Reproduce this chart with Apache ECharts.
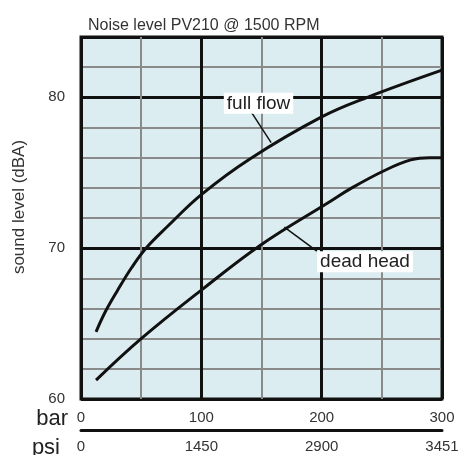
<!DOCTYPE html>
<html>
<head>
<meta charset="utf-8">
<script src="https://cdn.jsdelivr.net/npm/echarts@6/dist/echarts.min.js"></script>
<style>
  html, body { margin: 0; padding: 0; background: #fff; }
  #chart { width: 458px; height: 455px; }
</style>
</head>
<body>
<div id="chart"></div>
<script>
  // values
  const titleText = 'Noise level PV210 @ 1500 RPM';
  const barTicks = [0, 100, 200, 300];
  const psiTicks = ['0', '1450', '2900', '3451'];
  const dbaTicks = [60, 70, 80];

  const fullFlowBar = [12.5, 20, 30, 42, 54, 72, 100, 140, 200, 238, 300];
  const fullFlowDba = [64.45, 65.75, 67.15, 68.7, 70.0, 71.45, 73.55, 75.9, 78.7, 80.0, 81.8];

  const deadHeadBar = [12.5, 50, 100, 150, 207, 223, 251, 274, 290, 300];
  const deadHeadDba = [61.25, 64.0, 67.22, 70.25, 73.1, 73.9, 75.1, 75.85, 76.0, 76.0];

  // callout text and leader lines, in data units
  const fullFlowCallout = { text: 'full flow', at: [147.5, 79.6], from: [141.7, 79.0], to: [158, 77.0] };
  const deadHeadCallout = { text: 'dead head', at: [236, 69.1], from: [196, 69.8], to: [169, 71.4] };

  const zip = (xs, ys) => xs.map((x, i) => [x, ys[i]]);
  const font = 'Liberation Sans, Arial, sans-serif';

  function calloutParts(c) {
    return {
      markLine: {
        silent: true,
        symbol: 'none',
        lineStyle: { color: '#111', width: 1.5, type: 'solid' },
        label: { show: false },
        data: [[{ coord: c.from }, { coord: c.to }]]
      },
      markPoint: {
        silent: true,
        symbolSize: 0,
        data: [{ coord: c.at }],
        label: {
          show: true,
          formatter: c.text,
          position: 'inside',
          color: '#222',
          fontSize: 19,
          fontFamily: font,
          backgroundColor: '#fff',
          padding: [1, 3]
        }
      }
    };
  }

  const chart = echarts.init(document.getElementById('chart'), null, { renderer: 'canvas' });

  const option = {
    animation: false,
    title: {
      text: titleText,
      left: 83,
      top: 13,
      textStyle: { fontSize: 16, fontWeight: 'normal', color: '#333', fontFamily: font }
    },
    grid: {
      left: 81, right: 16, top: 37, bottom: 56,
      outerBoundsMode: 'none',
      show: true,
      backgroundColor: '#dcedf1',
      borderColor: '#111',
      borderWidth: 3
    },
    xAxis: [
      {
        type: 'value', min: 0, max: 300, interval: 50,
        name: 'bar', nameLocation: 'start', nameGap: 13, nameMoveOverlap: false,
        nameTextStyle: { fontSize: 22, color: '#222', fontFamily: font, verticalAlign: 'top', padding: [9, 0, 0, 0] },
        axisLine: { show: false }, axisTick: { show: false },
        axisLabel: {
          margin: 11, fontSize: 15, color: '#333', fontFamily: font,
          formatter: (v) => (barTicks.includes(v) ? String(v) : '')
        },
        splitLine: { show: true, lineStyle: { color: '#8a8a8a', width: 2 } }
      },
      {
        type: 'value', min: 0, max: 300, interval: 100, position: 'bottom',
        axisLine: { show: false }, axisTick: { show: false }, axisLabel: { show: false },
        splitLine: { show: true, lineStyle: { color: '#111', width: 3 } }
      },
      {
        type: 'value', min: 0, max: 300, interval: 100, position: 'bottom', offset: 31,
        name: 'psi', nameLocation: 'start', nameGap: 21, nameMoveOverlap: false,
        nameTextStyle: { fontSize: 22, color: '#222', fontFamily: font, verticalAlign: 'top', padding: [7, 0, 0, 0] },
        axisLine: { show: true, lineStyle: { color: '#111', width: 3 } },
        axisTick: { show: false },
        axisLabel: {
          margin: 9, fontSize: 15, color: '#333', fontFamily: font,
          formatter: (v) => psiTicks[barTicks.indexOf(v)] || ''
        },
        splitLine: { show: false }
      }
    ],
    yAxis: [
      {
        type: 'value', min: 60, max: 84, interval: 2,
        name: 'sound level (dBA)', nameLocation: 'middle', nameGap: 53,
        nameTextStyle: { fontSize: 17, color: '#333', fontFamily: font, padding: [0, 0, 0, 22] },
        axisLine: { show: false }, axisTick: { show: false },
        axisLabel: {
          margin: 16, fontSize: 15, color: '#333', fontFamily: font,
          formatter: (v) => (dbaTicks.includes(v) ? String(v) : '')
        },
        splitLine: { show: true, lineStyle: { color: '#8a8a8a', width: 2 } }
      },
      {
        type: 'value', min: 60, max: 84, interval: 10, position: 'left',
        axisLine: { show: false }, axisTick: { show: false }, axisLabel: { show: false },
        splitLine: { show: true, lineStyle: { color: '#111', width: 3 } }
      }
    ],
    series: [
      Object.assign({
        name: 'full flow', type: 'line', smooth: 0.4, symbol: 'none',
        data: zip(fullFlowBar, fullFlowDba),
        lineStyle: { color: '#111', width: 3 }, z: 5
      }, calloutParts(fullFlowCallout)),
      Object.assign({
        name: 'dead head', type: 'line', smooth: 0.4, symbol: 'none',
        data: zip(deadHeadBar, deadHeadDba),
        lineStyle: { color: '#111', width: 3 }, z: 5
      }, calloutParts(deadHeadCallout))
    ]
  };

  chart.setOption(option);
</script>
</body>
</html>
